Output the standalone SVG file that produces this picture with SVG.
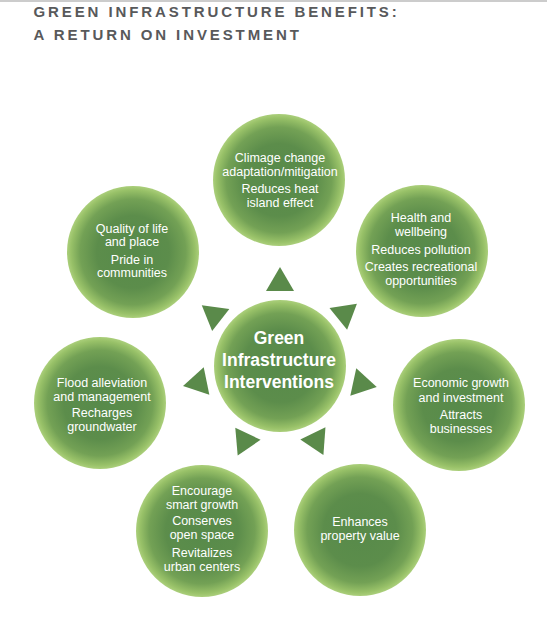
<svg xmlns="http://www.w3.org/2000/svg" width="547" height="620" viewBox="0 0 547 620">
<defs>
<radialGradient id="g" cx="50%" cy="50%" r="50%">
<stop offset="0" stop-color="#578a4a"/>
<stop offset="0.55" stop-color="#5c8d4b"/>
<stop offset="0.8" stop-color="#73a155"/>
<stop offset="0.94" stop-color="#98c168"/>
<stop offset="1" stop-color="#abcf7b"/>
</radialGradient>
<path id="tri" d="M0,-99 L14,-75 L-14,-75 Z"/>
</defs>
<style>
.title{font-family:"Liberation Sans",Arial,sans-serif;font-weight:bold;font-size:15px;letter-spacing:2.9px;fill:#58595b}
.node circle{fill:url(#g)}
.t{font-family:"Liberation Sans",Arial,sans-serif;font-size:12.5px;fill:#ffffff;text-anchor:middle}
.c{font-family:"Liberation Sans",Arial,sans-serif;font-weight:bold;font-size:17.5px;fill:#ffffff;text-anchor:middle}
.arrow{fill:#5a8a4a}
</style>
<rect x="0" y="0" width="547" height="620" fill="#ffffff"/>
<rect x="0" y="0" width="547" height="2" fill="#cccccc"/>
<g id="title">
<text class="title" x="33.5" y="17">GREEN INFRASTRUCTURE BENEFITS:</text>
<text class="title" x="33.5" y="40">A RETURN ON INVESTMENT</text>
</g>
<g id="connectors" class="arrow">
<use href="#tri" transform="translate(280,366) rotate(0)"/>
<use href="#tri" transform="translate(280,366) rotate(51)"/>
<use href="#tri" transform="translate(280,366) rotate(102.3)"/>
<use href="#tri" transform="translate(280,366) rotate(154)"/>
<use href="#tri" transform="translate(280,366) rotate(205.3)"/>
<use href="#tri" transform="translate(280,366) rotate(258.4)"/>
<use href="#tri" transform="translate(280,366) rotate(307.8)"/>
</g>
<g id="center" class="node">
<circle cx="280" cy="366" r="66"/>
<text class="c" x="279" y="344">Green</text>
<text class="c" x="279" y="366">Infrastructure</text>
<text class="c" x="279" y="388">Interventions</text>
</g>
<g id="climate" class="node">
<circle cx="279" cy="180" r="66"/>
<text class="t" x="280" y="162">Climage change</text>
<text class="t" x="280" y="176">adaptation/mitigation</text>
<text class="t" x="280" y="193">Reduces heat</text>
<text class="t" x="280" y="207">island effect</text>
</g>
<g id="health" class="node">
<circle cx="422" cy="251" r="66"/>
<text class="t" x="421" y="222">Health and</text>
<text class="t" x="421" y="236">wellbeing</text>
<text class="t" x="421" y="253.5">Reduces pollution</text>
<text class="t" x="421" y="271">Creates recreational</text>
<text class="t" x="421" y="285">opportunities</text>
</g>
<g id="economic" class="node">
<circle cx="459" cy="405" r="66"/>
<text class="t" x="461" y="387">Economic growth</text>
<text class="t" x="461" y="401.5">and investment</text>
<text class="t" x="461" y="419">Attracts</text>
<text class="t" x="461" y="433">businesses</text>
</g>
<g id="property" class="node">
<circle cx="360" cy="530" r="66"/>
<text class="t" x="360" y="526">Enhances</text>
<text class="t" x="360" y="540">property value</text>
</g>
<g id="smartgrowth" class="node">
<circle cx="202" cy="531" r="66"/>
<text class="t" x="202" y="495">Encourage</text>
<text class="t" x="202" y="509">smart growth</text>
<text class="t" x="202" y="525">Conserves</text>
<text class="t" x="202" y="539">open space</text>
<text class="t" x="202" y="557">Revitalizes</text>
<text class="t" x="202" y="571">urban centers</text>
</g>
<g id="flood" class="node">
<circle cx="100" cy="403" r="66"/>
<text class="t" x="102" y="387">Flood alleviation</text>
<text class="t" x="102" y="401">and management</text>
<text class="t" x="102" y="417">Recharges</text>
<text class="t" x="102" y="431">groundwater</text>
</g>
<g id="quality" class="node">
<circle cx="133" cy="252" r="66"/>
<text class="t" x="132" y="233">Quality of life</text>
<text class="t" x="132" y="246">and place</text>
<text class="t" x="132" y="264">Pride in</text>
<text class="t" x="132" y="277">communities</text>
</g>
</svg>
